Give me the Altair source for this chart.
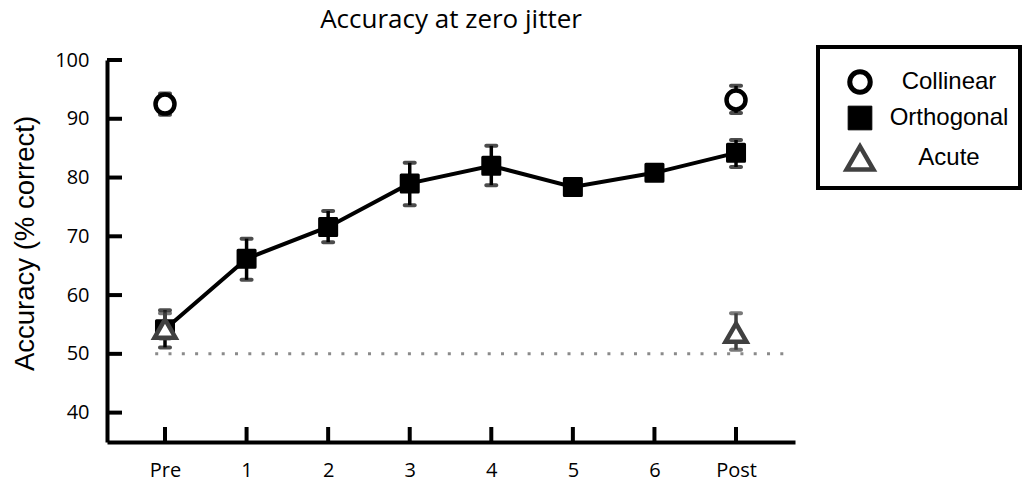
import altair as alt
import pandas as pd

# ---------------- data ----------------
sessions = [0, 1, 2, 3, 4, 5, 6, 7]
session_labels = ["Pre", "1", "2", "3", "4", "5", "6", "Post"]

orth_mean = [54.2, 66.2, 71.6, 79.0, 82.0, 78.4, 80.8, 84.2]
orth_low = [51.1, 62.6, 69.0, 75.3, 78.7, 77.4, 80.0, 81.8]
orth_high = [57.4, 69.6, 74.3, 82.5, 85.4, 79.4, 81.6, 86.4]

test_sessions = [0, 7]
col_mean = [92.5, 93.2]
col_low = [90.7, 91.0]
col_high = [94.3, 95.6]
acu_mean = [54.3, 53.6]
acu_low = [52.6, 50.7]
acu_high = [56.9, 56.9]

chance_level = [50]
chance_span = [-0.12, 7.58]
y_ticks = [40, 50, 60, 70, 80, 90, 100]
series_names = ["Collinear", "Orthogonal", "Acute"]

# ---------------- tables ----------------
orth = pd.DataFrame({"session": sessions, "mean": orth_mean, "low": orth_low,
                     "high": orth_high, "series": "Orthogonal"})
col = pd.DataFrame({"session": test_sessions, "mean": col_mean, "low": col_low,
                    "high": col_high, "series": "Collinear"})
acu = pd.DataFrame({"session": test_sessions, "mean": acu_mean, "low": acu_low,
                    "high": acu_high, "series": "Acute"})
allpts = pd.concat([orth, col, acu], ignore_index=True)
chance = pd.DataFrame({"x0": [chance_span[0]], "x1": [chance_span[1]], "level": chance_level})
yt = pd.DataFrame({"tick": y_ticks})
xt = pd.DataFrame({"session": sessions})

W, H = 688, 382
xscale = alt.Scale(domain=[-0.711, 7.723], nice=False, zero=False)
yscale = alt.Scale(domain=[35, 100], nice=False, zero=False)
label_expr = "[" + ",".join("'%s'" % s for s in session_labels) + "][datum.value]"
xaxis = alt.Axis(values=sessions, labelExpr=label_expr, title=None, labelPadding=18)
yaxis = alt.Axis(values=y_ticks, title="Accuracy (% correct)", labelPadding=18,
                 titlePadding=15, titleFont="Liberation Sans", titleFontSize=27.5,
                 titleFontWeight="normal", titleColor="black", titleY=183)

X = lambda f: alt.X(f, type="quantitative", scale=xscale, axis=xaxis)
Y = lambda f: alt.Y(f, type="quantitative", scale=yscale, axis=yaxis)
colr = alt.Color("series:N", scale=alt.Scale(domain=series_names,
                 range=["black", "black", "#404040"]), legend=None)

chance_layer = alt.Chart(chance).mark_rule(
    color="#8a8a8a", strokeWidth=3, strokeDash=[3, 10.3]
).encode(x=X("x0"), x2="x1", y=Y("level"))

ytick_layer = alt.Chart(yt).mark_rule(color="black", strokeWidth=4).encode(
    y=Y("tick"), x=alt.value(0), x2=alt.value(15))
xtick_layer = alt.Chart(xt).mark_rule(color="black", strokeWidth=4).encode(
    x=X("session"), y=alt.value(H - 15), y2=alt.value(H))

line_layer = alt.Chart(orth).mark_line(color="black", strokeWidth=4).encode(
    x=X("session"), y=Y("mean"))

err_layer = alt.Chart(allpts).mark_rule(strokeWidth=3.5).encode(
    x=X("session"), y=Y("low"), y2="high", color=colr)
cap_layer = alt.Chart(allpts).transform_fold(
    ["low", "high"], as_=["bound", "value"]
).mark_tick(orient="horizontal", size=14, thickness=4, cornerRadius=2).encode(
    x=X("session"), y=Y("value:Q"), color=colr)

orth_style = dict(shape="square", filled=True, fill="black", stroke="black",
                  strokeWidth=3, strokeJoin="round", size=290, opacity=1)
col_style = dict(shape="circle", filled=True, fill="white", stroke="black",
                 strokeWidth=4.5, size=360, opacity=1)
acu_style = dict(shape="triangle-up", filled=True, fill="white", stroke="#404040",
                 strokeWidth=4.5, strokeJoin="miter", size=440, opacity=1)

orth_pts = alt.Chart(orth).mark_point(**orth_style).encode(x=X("session"), y=Y("mean"))
col_pts = alt.Chart(col).mark_point(**col_style).encode(x=X("session"), y=Y("mean"))
acu_pts = alt.Chart(acu).mark_point(**acu_style).encode(x=X("session"), y=Y("mean"))

# ---------------- legend (drawn as marks outside the plot) ----------------
LX0, LX1, LY0, LY1 = 711, 913, -13, 128
box = alt.Chart(alt.Data(values=[{"a": 1}])).mark_rect(
    fill="white", stroke="black", strokeWidth=4
).encode(x=alt.value(LX0), x2=alt.value(LX1), y=alt.value(LY0), y2=alt.value(LY1))

leg_styles = [
    dict(col_style, size=420, strokeWidth=5),
    dict(orth_style, size=560, strokeWidth=1),
    dict(acu_style, size=720, strokeWidth=4.5),
]
sym_x, txt_x = 753, 842
rows_y = [22, 58, 98]
legend_layers = []
for name, yy, st in zip(series_names, rows_y, leg_styles):
    d = alt.Data(values=[{"label": name}])
    legend_layers.append(alt.Chart(d).mark_point(**st).encode(
        x=alt.value(sym_x), y=alt.value(yy)))
    legend_layers.append(alt.Chart(d).mark_text(
        font="Liberation Sans", fontSize=24, align="center", baseline="middle",
        color="black").encode(x=alt.value(txt_x), y=alt.value(yy), text="label:N"))

chart = alt.layer(
    chance_layer, ytick_layer, xtick_layer, line_layer, err_layer, cap_layer,
    orth_pts, col_pts, acu_pts, box, *legend_layers
).properties(
    width=W, height=H,
    title=alt.TitleParams("Accuracy at zero jitter", font="Open Sans", fontSize=26,
                          fontWeight="normal", color="black", anchor="middle", offset=12),
    autosize=alt.AutoSizeParams(type="none"),
    padding={"left": 107, "top": 60, "right": 1024 - 107 - W, "bottom": 487 - 60 - H},
).configure_view(stroke=None).configure_axis(
    domainColor="black", domainWidth=4, ticks=False, tickSize=0, grid=False,
    labelFont="Open Sans", labelFontSize=20, labelColor="black"
)

chart.save("out.html", embed_options={"renderer": "svg", "actions": False})
